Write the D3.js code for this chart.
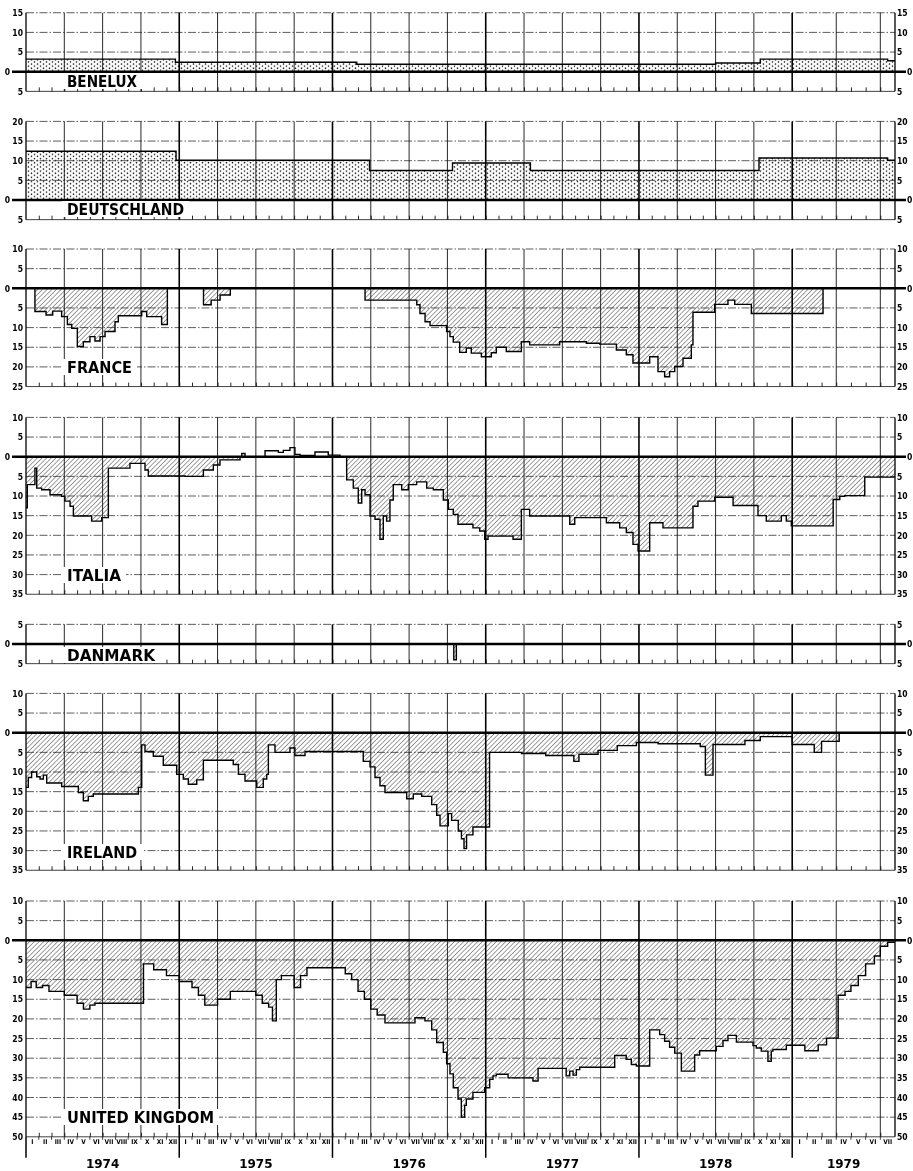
<!DOCTYPE html>
<html><head><meta charset="utf-8">
<script src="https://cdn.jsdelivr.net/npm/d3@7"></script>
<style>body{margin:0;background:#fff}svg{display:block;filter:grayscale(100%)}</style>
</head><body><svg id="chart" width="913" height="1171"></svg>
<script>
// Time axis: months counted from 1 January 1974 (0) to the end of July 1979 (67)
const years = [1974, 1975, 1976, 1977, 1978, 1979];
const monthNames = ["I","II","III","IV","V","VI","VII","VIII","IX","X","XI","XII"];
const months1979 = 7;

// Each series: [month, value] change points, value held until the next point (%)
const benelux = [[0,3.2],[11.7,2.4],[25.9,1.9],[54,2.2],[57.5,3.2],[66.5,2.8],[67,2.8]];
const deutschland = [[0,12.4],[11.75,10.1],[26.9,7.5],[33.4,9.4],[39.5,7.5],[57.4,10.7],[66.5,10.1],[67,10.1]];
const france = [[0,0],[0.7,-5.9],[1.57,-6.8],[2.09,-5.8],[2.79,-7.2],[3.24,-9.2],[3.58,-10.2],[4.02,-14.8],
  [4.49,-13.6],[5.01,-12.3],[5.4,-13.4],[5.8,-12.3],[6.19,-11.0],[6.97,-8.5],[7.23,-7.0],[9.06,-5.9],
  [9.45,-7.2],[10.62,-9.2],[11.07,0],[13.9,-4.2],[14.5,-3.0],[15.2,-1.7],[16.0,0],[26.55,-3.0],[30.6,-4.2],
  [30.85,-6.4],[31.25,-8.5],[31.64,-9.5],[32.94,-11.0],[33.2,-12.3],[33.46,-13.7],[33.96,-16.3],[34.48,-15.2],
  [34.87,-16.5],[35.66,-17.4],[36.44,-16.4],[36.83,-15.0],[37.61,-16.1],[38.79,-13.6],[39.44,-14.4],
  [41.79,-13.6],[43.88,-14.0],[44.92,-14.2],[46.23,-15.7],[47.01,-16.9],[47.53,-19.0],[48.84,-17.4],
  [49.49,-21.2],[50.01,-22.5],[50.4,-21.2],[50.8,-19.9],[51.45,-17.8],[52.1,-14.4],[52.23,-6.1],[53.93,-4.1],
  [54.97,-3.0],[55.5,-4.1],[56.8,-6.4],[62.1,0],[67,0]];
const italia = [[0,-13.0],[0.1,-7.1],[0.7,-2.9],[0.84,-8.0],[1.23,-8.4],[1.88,-9.7],[2.79,-10.1],[3.05,-11.3],
  [3.45,-12.6],[3.71,-15.1],[5.14,-16.4],[5.93,-15.5],[6.45,-2.9],[8.14,-1.7],[9.32,-3.4],[9.58,-4.9],
  [12.45,-5.0],[13.89,-3.4],[14.67,-2.1],[15.19,-0.8],[16.76,0],[16.9,0.8],[17.15,0],[18.72,1.5],[19.76,1.1],
  [20.15,1.6],[20.67,2.3],[21.06,0.6],[21.46,0.3],[22.63,1.2],[23.67,0.4],[24.59,0],[25.11,-5.9],[25.63,-8.0],
  [26.02,-11.8],[26.29,-8.4],[26.55,-9.7],[26.94,-15.1],[27.33,-15.9],[27.72,-21.0],[27.98,-15.1],[28.24,-16.4],
  [28.5,-11.0],[28.76,-7.1],[29.42,-8.4],[29.94,-7.1],[30.59,-6.4],[31.38,-8.0],[31.9,-8.4],[32.68,-11.0],
  [33.07,-13.4],[33.46,-14.7],[33.83,-17.2],[35.0,-18.1],[35.53,-18.9],[35.92,-21.0],[36.18,-20.2],
  [38.14,-21.0],[38.79,-13.4],[39.44,-15.1],[42.58,-17.2],[42.97,-15.5],[45.45,-16.8],[46.49,-18.1],
  [47.01,-19.3],[47.53,-22.3],[47.93,-24.0],[48.84,-16.8],[49.88,-18.1],[52.23,-12.6],[52.62,-11.3],
  [53.93,-10.3],[55.37,-12.4],[57.32,-15.0],[57.97,-16.4],[59.15,-15.0],[59.54,-16.4],[59.93,-17.6],
  [62.79,-10.9],[63.24,-10.1],[63.58,-9.9],[64.94,-5.2],[67,-5.2]];
const danmark = [[0,0],[33.5,-4.0],[33.7,0],[67,0]];
const ireland = [[0,-13.9],[0.18,-11.4],[0.44,-10.0],[0.84,-11.2],[1.1,-11.8],[1.36,-10.8],[1.62,-12.8],
  [2.79,-13.7],[4.1,-15.2],[4.49,-17.3],[4.88,-16.2],[5.27,-15.6],[8.8,-13.9],[9.06,-3.1],[9.32,-4.8],
  [9.97,-6.0],[10.75,-8.3],[11.8,-10.6],[12.32,-11.8],[12.71,-13.1],[13.37,-12.0],[13.89,-7.0],[16.23,-8.1],
  [16.63,-10.6],[17.15,-12.3],[18.07,-13.9],[18.58,-11.8],[18.85,-10.6],[18.98,-3.1],[19.5,-5.0],[20.67,-3.9],
  [21.06,-5.8],[21.85,-4.8],[26.41,-7.3],[26.94,-8.7],[27.33,-11.4],[27.72,-13.5],[28.11,-15.2],[29.81,-16.8],
  [30.33,-15.6],[30.99,-16.2],[31.77,-18.3],[32.16,-21.0],[32.42,-23.7],[33.07,-20.6],[33.33,-22.3],
  [33.85,-25.0],[34.1,-27.0],[34.3,-29.5],[34.5,-26.0],[35.0,-24.0],[36.3,-5.0],[38.8,-5.3],[40.7,-5.8],
  [42.9,-7.3],[43.3,-5.5],[44.8,-4.5],[46.3,-3.3],[47.8,-2.5],[49.5,-2.8],[52.8,-3.5],[53.2,-10.8],
  [53.8,-3.0],[56.3,-2.0],[57.5,-1.0],[60.0,-3.0],[61.5,-5.0],[62.0,-2.2],[63.2,0],[67,0]];
const unitedKingdom = [[0,-12.0],[0.4,-10.5],[0.8,-12.0],[1.3,-11.5],[1.8,-13.0],[3.0,-14.0],[4.0,-16.0],
  [4.5,-17.5],[5.0,-16.5],[5.4,-16.0],[9.2,-6.0],[10.0,-7.5],[11.0,-9.0],[12.0,-10.5],[13.0,-12.0],[13.5,-14.0],
  [14.0,-16.5],[15.0,-15.0],[16.0,-13.0],[18.0,-14.0],[18.5,-16.0],[19.0,-17.0],[19.3,-20.5],[19.6,-10.0],
  [20.0,-9.0],[21.0,-12.0],[21.5,-9.0],[22.0,-7.0],[25.0,-8.5],[25.5,-10.0],[26.0,-13.0],[26.5,-15.0],
  [27.0,-17.5],[27.5,-19.0],[28.11,-21.0],[30.46,-19.7],[31.24,-20.5],[31.77,-22.8],[32.16,-26.0],
  [32.68,-28.5],[32.94,-31.4],[33.2,-34.0],[33.46,-37.5],[33.83,-40.4],[34.09,-45.0],[34.35,-42.0],
  [34.48,-40.4],[35.0,-38.7],[35.92,-37.5],[36.31,-35.4],[36.57,-34.5],[36.83,-34.1],[37.75,-35.0],
  [39.7,-35.8],[40.1,-32.6],[42.3,-34.5],[42.58,-33.3],[42.84,-34.3],[43.1,-32.9],[43.36,-32.3],[46.1,-29.3],
  [47.0,-30.3],[47.4,-31.6],[47.8,-32.0],[48.84,-22.8],[49.62,-24.0],[50.01,-25.7],[50.4,-27.2],[50.8,-28.7],
  [51.32,-33.3],[52.36,-29.2],[52.75,-28.1],[54.06,-27.0],[54.58,-25.5],[54.97,-24.2],[55.63,-25.9],
  [56.93,-26.8],[57.19,-27.4],[57.58,-28.2],[58.1,-30.8],[58.36,-28.2],[58.49,-27.8],[59.54,-26.7],
  [60.86,-28.1],[61.77,-26.6],[62.34,-24.9],[63.13,-14.0],[63.6,-13.0],[64.0,-11.5],[64.5,-9.0],[65.0,-6.0],
  [65.6,-4.0],[66.0,-1.5],[66.5,-0.5],[67,-0.5]];

// Panels top to bottom, with their value ranges
const countryNames = ["BENELUX","DEUTSCHLAND","FRANCE","ITALIA","DANMARK","IRELAND","UNITED KINGDOM"];
const seriesList = [benelux, deutschland, france, italia, danmark, ireland, unitedKingdom];
const upperLimits = [15, 20, 10, 10, 5, 10, 10];
const lowerLimits = [-5, -5, -25, -35, -5, -35, -50];

// Layout: y position of each panel's zero line, label baseline and label width
const zeroY = [71.7, 200, 288.3, 456.7, 644, 732.7, 940.3];
const labelY = [87, 215, 373, 581, 661, 858, 1123];
const labelW = [70, 117, 65, 54, 88, 70, 147];
const pxPerUnit = 3.93;

const svg = d3.select("#chart");
const x = d3.scaleLinear().domain([0, 60, 67]).range([26, 792.2, 895]);
const ink = "#111";

const defs = svg.append("defs");
const hatch = defs.append("pattern").attr("id", "hatch").attr("patternUnits", "userSpaceOnUse")
  .attr("width", 3.3).attr("height", 3.3).attr("patternTransform", "rotate(45)");
hatch.append("line").attr("x1", 0).attr("y1", -1).attr("x2", 0).attr("y2", 5)
  .attr("stroke", "#1a1a1a").attr("stroke-width", 0.85);
const dots = defs.append("pattern").attr("id", "dots").attr("patternUnits", "userSpaceOnUse")
  .attr("width", 6).attr("height", 4.2);
dots.append("circle").attr("cx", 1.5).attr("cy", 1).attr("r", 0.8).attr("fill", "#222");
dots.append("circle").attr("cx", 4.5).attr("cy", 3.1).attr("r", 0.8).attr("fill", "#222");

const quarterMonths = d3.range(3, 67, 3).filter(m => m % 12 !== 0);
const yearMonths = [12, 24, 36, 48, 60];

seriesList.forEach((data, i) => {
  const top = upperLimits[i], bot = lowerLimits[i];
  const z = zeroY[i];
  const y = d3.scaleLinear().domain([bot, top]).range([z - bot * pxPerUnit, z - top * pxPerUnit]);
  const g = svg.append("g");
  const levels = d3.range(bot, top + 1, 5);
  const positivePanel = i < 2;

  // horizontal grid at every 5 points
  g.selectAll("line.grid").data(levels.filter(v => v !== 0 && v !== bot)).join("line")
    .attr("x1", x(0)).attr("x2", x(67)).attr("y1", d => y(d)).attr("y2", d => y(d))
    .attr("stroke", "#333").attr("stroke-width", 0.8).attr("stroke-dasharray", "8,2,1.5,2");
  g.append("line").attr("x1", x(0)).attr("x2", x(67)).attr("y1", y(bot)).attr("y2", y(bot))
    .attr("stroke", ink).attr("stroke-width", 0.8);

  // area between the zero line and the series
  if (positivePanel) {
    g.append("path").datum(data)
      .attr("d", d3.area().curve(d3.curveStepAfter).x(d => x(d[0])).y0(y(0)).y1(d => y(Math.max(0, d[1]))))
      .attr("fill", "url(#dots)");
  } else {
    g.append("path").datum(data)
      .attr("d", d3.area().curve(d3.curveStepAfter).x(d => x(d[0])).y0(y(0)).y1(d => y(Math.min(0, d[1]))))
      .attr("fill", "url(#hatch)");
  }

  // quarter and year verticals, plot edges
  g.selectAll("line.q").data(quarterMonths).join("line")
    .attr("x1", d => x(d)).attr("x2", d => x(d)).attr("y1", y(top)).attr("y2", y(bot))
    .attr("stroke", ink).attr("stroke-width", 0.9);
  g.selectAll("line.yr").data(yearMonths).join("line")
    .attr("x1", d => x(d)).attr("x2", d => x(d)).attr("y1", y(top)).attr("y2", y(bot))
    .attr("stroke", "#000").attr("stroke-width", 1.6);
  g.selectAll("line.edge").data([0, 67]).join("line")
    .attr("x1", d => x(d)).attr("x2", d => x(d)).attr("y1", y(top)).attr("y2", y(bot))
    .attr("stroke", "#000").attr("stroke-width", 1.3);

  // monthly ticks along the bottom edge
  const mt = g.append("g").attr("transform", `translate(0,${y(bot)})`)
    .call(d3.axisTop(x).tickValues(d3.range(1, 67)).tickSize(4).tickFormat(""));
  mt.select(".domain").remove();
  mt.selectAll("line").attr("stroke", ink).attr("stroke-width", 0.9);

  // step outline of the series
  g.append("path").datum(data)
    .attr("d", d3.line().curve(d3.curveStepAfter).x(d => x(d[0])).y(d => y(d[1])))
    .attr("fill", "none").attr("stroke", "#000").attr("stroke-width", 1.4);

  // heavy zero line with its leaders to the "0" labels
  g.append("line").attr("x1", 12).attr("x2", 906).attr("y1", y(0)).attr("y2", y(0))
    .attr("stroke", "#000").attr("stroke-width", 2.6);

  // value axes on both sides; values below zero are shown without sign
  const fmt = d => String(Math.abs(d));
  const left = g.append("g").attr("transform", `translate(${x(0)},0)`)
    .call(d3.axisLeft(y).tickValues(levels).tickFormat(fmt).tickSize(0).tickPadding(3));
  const right = g.append("g").attr("transform", `translate(${x(67)},0)`)
    .call(d3.axisRight(y).tickValues(levels).tickFormat(fmt).tickSize(0).tickPadding(2));
  [left, right].forEach(ax => {
    ax.select(".domain").remove();
    ax.selectAll("text").attr("font-family", "'DejaVu Sans Condensed', 'DejaVu Sans', sans-serif")
      .attr("font-weight", "bold").attr("font-size", 8.5).attr("fill", "#000");
  });
  left.selectAll(".tick").filter(d => d === 0).select("text").attr("x", -16);
  right.selectAll(".tick").filter(d => d === 0).select("text").attr("x", 12);

  // country name on a white ground
  const lab = g.append("g");
  lab.append("rect").attr("x", 62).attr("y", labelY[i] - 14).attr("width", labelW[i] + 10).attr("height", 16)
    .attr("fill", "#fff");
  lab.append("text").attr("x", 67).attr("y", labelY[i]).text(countryNames[i])
    .attr("font-family", "'DejaVu Sans', sans-serif").attr("font-weight", "bold").attr("font-size", 16)
    .attr("textLength", labelW[i]).attr("lengthAdjust", "spacingAndGlyphs").attr("fill", "#000");
});

// time axis under the last panel: month numerals and years
const baseY = zeroY[6] - lowerLimits[6] * pxPerUnit;
const monthSlots = d3.range(0, 67);
const axisG = svg.append("g");
axisG.selectAll("text.m").data(monthSlots).join("text")
  .attr("x", d => (x(d) + x(d + 1)) / 2).attr("y", baseY + 7.5)
  .attr("text-anchor", "middle").attr("font-family", "'DejaVu Sans Condensed', sans-serif")
  .attr("font-size", 6.5).attr("font-weight", "bold").attr("fill", "#000")
  .text(d => monthNames[d % 12]);
axisG.selectAll("line.mt").data(d3.range(1, 67).filter(m => m % 12 !== 0)).join("line")
  .attr("x1", d => x(d)).attr("x2", d => x(d)).attr("y1", baseY).attr("y2", baseY + 3)
  .attr("stroke", ink).attr("stroke-width", 0.8);
axisG.selectAll("line.ys").data([0, 12, 24, 36, 48, 60]).join("line")
  .attr("x1", d => x(d)).attr("x2", d => x(d)).attr("y1", baseY).attr("y2", baseY + 21)
  .attr("stroke", "#000").attr("stroke-width", 1.5);
axisG.selectAll("text.yr").data(years).join("text")
  .attr("x", (d, k) => (x(k * 12) + x(Math.min(k * 12 + 12, 60 + months1979))) / 2)
  .attr("y", baseY + 31)
  .attr("text-anchor", "middle").attr("font-family", "'DejaVu Sans', sans-serif")
  .attr("font-weight", "bold").attr("font-size", 12).attr("fill", "#000").text(d => d);
</script>
</body></html>
